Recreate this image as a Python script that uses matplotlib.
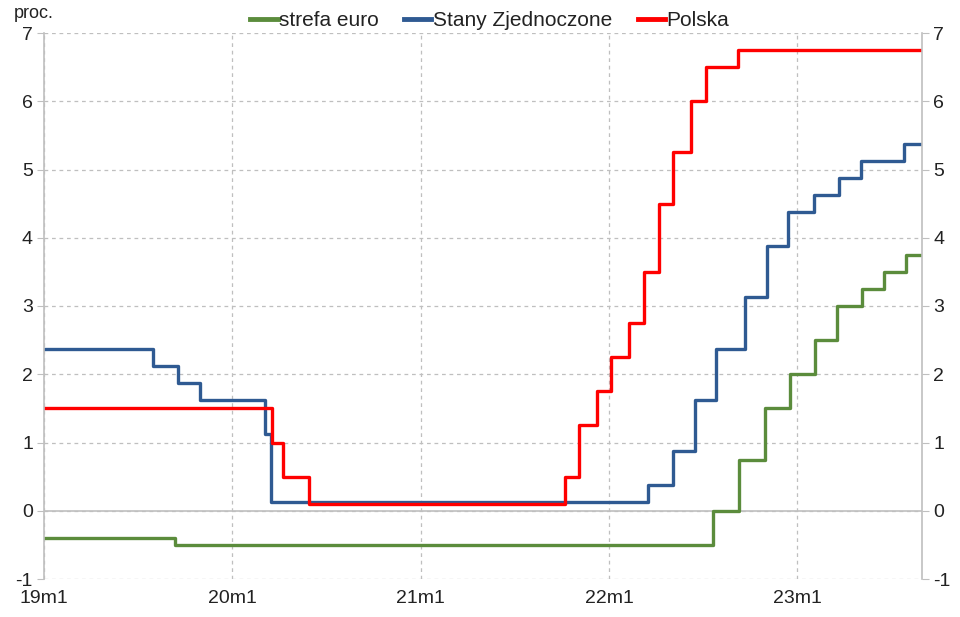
import matplotlib.pyplot as plt
import matplotlib.dates as mdates
import numpy as np
import pandas as pd

plt.rcParams['font.family'] = ['Liberation Sans', 'DejaVu Sans']

# rate change dates and levels
ez_dates = ['2019-01-01', '2019-09-13', '2022-07-22', '2022-09-10', '2022-10-30',
            '2022-12-18', '2023-02-04', '2023-03-19', '2023-05-07', '2023-06-18',
            '2023-07-30']
ez_rates = [-0.40, -0.50, 0.00, 0.75, 1.50, 2.00, 2.50, 3.00, 3.25, 3.50, 3.75]

us_dates = ['2019-01-01', '2019-08-01', '2019-09-17', '2019-10-30', '2020-03-04',
            '2020-03-16', '2022-03-17', '2022-05-05', '2022-06-16', '2022-07-28',
            '2022-09-22', '2022-11-03', '2022-12-15', '2023-02-02', '2023-03-23',
            '2023-05-04', '2023-07-27']
us_rates = [2.375, 2.125, 1.875, 1.625, 1.125, 0.125, 0.375, 0.875, 1.625, 2.375,
            3.125, 3.875, 4.375, 4.625, 4.875, 5.125, 5.375]

pl_dates = ['2019-01-01', '2020-03-18', '2020-04-09', '2020-05-29', '2021-10-07',
            '2021-11-04', '2021-12-09', '2022-01-05', '2022-02-09', '2022-03-09',
            '2022-04-07', '2022-05-06', '2022-06-09', '2022-07-08', '2022-09-08']
pl_rates = [1.50, 1.00, 0.50, 0.10, 0.50, 1.25, 1.75, 2.25, 2.75, 3.50, 4.50,
            5.25, 6.00, 6.50, 6.75]

end_date = '2023-08-31'
year_ticks = ['2019-01-01', '2020-01-01', '2021-01-01', '2022-01-01', '2023-01-01']
year_labels = ['19m1', '20m1', '21m1', '22m1', '23m1']

series = [
    ('strefa euro', ez_dates, ez_rates, '#5B8C3C'),
    ('Stany Zjednoczone', us_dates, us_rates, '#2F5A92'),
    ('Polska', pl_dates, pl_rates, '#FF0000'),
]

fig = plt.figure(figsize=(9.6, 6.17), dpi=100)
ax = fig.add_axes([44/960, 1 - 579/617, (922 - 44)/960, (579 - 33)/617])

for name, d, r, c in series:
    x = pd.to_datetime(d + [end_date])
    y = r + [r[-1]]
    ax.plot(x, y, drawstyle='steps-post', color=c, lw=2.4, label=name)

ax.set_xlim(pd.Timestamp('2019-01-01'), pd.Timestamp(end_date))
ax.set_ylim(-1, 7)
ax.set_yticks(range(-1, 8))
ax.set_yticklabels([str(v) for v in range(-1, 8)])
ax.set_xticks(pd.to_datetime(year_ticks))
ax.set_xticklabels(year_labels)

ax.grid(True, color='#BFBFBF', linestyle=(0, (3, 3)), lw=0.9)
ax.set_axisbelow(True)
ax.axhline(0, color='#BFBFBF', lw=1.2, zorder=1)

for s in ['top', 'bottom']:
    ax.spines[s].set_visible(False)
for s in ['left', 'right']:
    ax.spines[s].set_color('#BFBFBF')
    ax.spines[s].set_linewidth(1.2)

ax.tick_params(axis='y', left=True, right=True, labelleft=True, labelright=True,
               length=5, color='#BFBFBF', labelsize=14, labelcolor='#222222', pad=3)
ax.tick_params(axis='x', length=0, labelsize=14, labelcolor='#222222', pad=8)

fig.text(14/960, 1 - 13/617, 'proc.', fontsize=13, color='#222222', va='center')

leg = fig.legend(loc='center', bbox_to_anchor=(0.51, 1 - 21/617), ncol=3, frameon=False,
                 fontsize=15, handlelength=1.3, handletextpad=0.05, columnspacing=1.25,
                 borderpad=0, borderaxespad=0)
for line in leg.get_lines():
    line.set_linewidth(3.5)
for t in leg.get_texts():
    t.set_color('#222222')

fig.savefig('out.png', dpi=100)
